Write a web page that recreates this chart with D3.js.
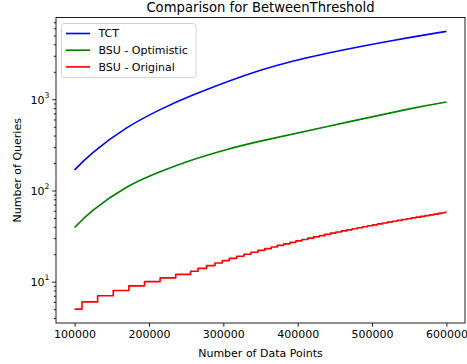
<!DOCTYPE html>
<html><head><meta charset="utf-8">
<script src="https://cdn.jsdelivr.net/npm/d3@7"></script>
<style>
body{margin:0;background:#fff}
text{font-family:"DejaVu Sans",sans-serif;fill:#000}
</style>
</head><body>
<svg id="c" width="467" height="364"></svg>
<script>
// ---- data ----
const tctN = [100000, 125000, 170000, 215000, 260000, 350000, 440000, 530000, 600000];
const tctQ = [168, 262, 485, 770, 1120, 2080, 3200, 4440, 5550];

const optN = [100000, 125000, 170000, 215000, 260000, 305000, 350000, 440000, 547000, 600000];
const optQ = [39.3, 61.0, 108.5, 160.4, 218.6, 281.7, 347.4, 503, 774, 934];

const origN = [100000, 110000, 131000, 152000, 173000, 194000, 215000, 236000, 256000, 266000,
  277500, 288800, 298600, 308000, 318000, 327800, 337200, 346600, 355600, 364500,
  372600, 381200, 389700, 397700, 405700, 413600, 421400, 429100, 436600, 444100,
  451400, 458700, 465900, 473100, 480100, 487000, 493900, 500700, 507400, 514100,
  520700, 527300, 533800, 540200, 546500, 552800, 559100, 565300, 571400, 577500,
  583200, 588900, 594100, 598600, 600000];
const origQ = [5, 6, 7, 8, 9, 10, 11, 12, 13, 14,
  15, 16, 17, 18, 19, 20, 21, 22, 23, 24,
  25, 26, 27, 28, 29, 30, 31, 32, 33, 34,
  35, 36, 37, 38, 39, 40, 41, 42, 43, 44,
  45, 46, 47, 48, 49, 50, 51, 52, 53, 54,
  55, 56, 57, 58, 58];

const xTicks = [100000, 200000, 300000, 400000, 500000, 600000];
const yMajor = [10, 100, 1000];
const seriesNames = ["TCT", "BSU - Optimistic", "BSU - Original"];
const seriesColors = ["#0000ff", "#008000", "#ff0000"];

// ---- layout ----
const L = 56, R = 465, T = 17.5, B = 323;
const svg = d3.select("#c");

const allN = [...tctN, ...optN, ...origN];
const allQ = [...tctQ, ...optQ, ...origQ];
const [nMin, nMax] = d3.extent(allN);
const nPad = (nMax - nMin) * 0.05;
const x = d3.scaleLinear().domain([nMin - nPad, nMax + nPad]).range([L, R]);
const [qMin, qMax] = d3.extent(allQ).map(Math.log10);
const qPad = (qMax - qMin) * 0.05;
const y = d3.scaleLog().domain([Math.pow(10, qMin - qPad), Math.pow(10, qMax + qPad)]).range([B, T]);

// minor ticks
const yMinor = [];
const [d0, d1] = y.domain();
for (let e = 0; e <= 4; e++) for (let m = 2; m <= 9; m++) {
  const v = m * Math.pow(10, e);
  if (v >= d0 && v <= d1) yMinor.push(v);
}

// series
const data = [
  tctN.map((n, i) => [n, tctQ[i]]),
  optN.map((n, i) => [n, optQ[i]]),
  origN.map((n, i) => [n, origQ[i]])
];
const curves = [d3.curveNatural, d3.curveNatural, d3.curveStepAfter];
svg.append("clipPath").attr("id", "clp").append("rect")
  .attr("x", L).attr("y", T).attr("width", R - L).attr("height", B - T);
data.forEach((d, i) => {
  svg.append("path").attr("clip-path", "url(#clp)")
    .attr("d", d3.line().x(p => x(p[0])).y(p => y(p[1])).curve(curves[i])(d))
    .attr("fill", "none").attr("stroke", seriesColors[i]).attr("stroke-width", 1.64)
    .attr("stroke-linejoin", "round");
});

// axes
const xAxis = svg.append("g").attr("transform", `translate(0,${B})`)
  .call(d3.axisBottom(x).tickValues(xTicks).tickFormat(d3.format("d")).tickSize(3.8).tickPadding(3.6));
xAxis.selectAll("text").attr("font-size", "11px").attr("font-family", "DejaVu Sans");

const yMin = svg.append("g").attr("transform", `translate(${L},0)`)
  .call(d3.axisLeft(y).tickValues(yMinor).tickFormat("").tickSize(2.2));
const yMaj = svg.append("g").attr("transform", `translate(${L},0)`)
  .call(d3.axisLeft(y).tickValues(yMajor).tickFormat("").tickSize(3.8));
yMaj.selectAll(".tick").each(function(d) {
  const t = d3.select(this).append("text").attr("x", -6.5).attr("dy", "0.36em")
    .attr("text-anchor", "end").attr("font-size", "11px");
  t.append("tspan").text("10");
  t.append("tspan").attr("font-size", "7.7px").attr("dy", "-0.75em").text(Math.round(Math.log10(d)));
});
[xAxis, yMin, yMaj].forEach(g => {
  g.select(".domain").remove();
  g.selectAll("line").attr("stroke", "#000").attr("stroke-width", 0.87);
});

// frame
svg.append("rect").attr("x", L).attr("y", T).attr("width", R - L).attr("height", B - T)
  .attr("fill", "none").attr("stroke", "#000").attr("stroke-width", 0.87);

// labels
svg.append("text").attr("x", (L + R) / 2).attr("y", 11.5).attr("text-anchor", "middle")
  .attr("font-size", "13.2px").text("Comparison for BetweenThreshold");
svg.append("text").attr("x", (L + R) / 2).attr("y", 357).attr("text-anchor", "middle")
  .attr("font-size", "11px").text("Number of Data Points");
svg.append("text").attr("transform", `translate(21,${(T + B) / 2}) rotate(-90)`)
  .attr("text-anchor", "middle").attr("font-size", "11px").text("Number of Queries");

// legend
const lg = svg.append("g").attr("transform", `translate(${L + 5.5},${T + 6})`);
lg.append("rect").attr("width", 134.5).attr("height", 54).attr("rx", 2.5)
  .attr("fill", "#fff").attr("fill-opacity", 0.8).attr("stroke", "#cccccc").attr("stroke-width", 0.87);
seriesNames.forEach((s, i) => {
  const yy = 10 + i * 16.7;
  lg.append("line").attr("x1", 4.5).attr("x2", 28.5).attr("y1", yy).attr("y2", yy)
    .attr("stroke", seriesColors[i]).attr("stroke-width", 1.64);
  lg.append("text").attr("x", 37).attr("y", yy).attr("dy", "0.36em")
    .attr("font-size", "11px").text(s);
});
</script>
</body></html>
